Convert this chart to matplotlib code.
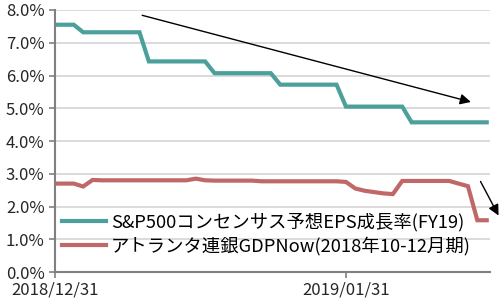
import numpy as np
import pandas as pd
import matplotlib
matplotlib.use('Agg')
import matplotlib.pyplot as plt
import matplotlib.dates as mdates

plt.rcParams['font.family'] = ['Noto Sans CJK JP', 'DejaVu Sans']

# daily values, 2018/12/31 - 2019/02/15
dates = pd.date_range('2018-12-31', '2019-02-15')
eps = [7.55] * 3 + [7.32] * 7 + [6.43] * 7 + [6.07] * 7 + [5.72] * 7 + [5.05] * 7 + [4.57] * 9
gdp = ([2.70, 2.70, 2.70, 2.61, 2.81] + [2.80] * 10 + [2.85, 2.80] + [2.79] * 5 + [2.77] * 9
       + [2.75, 2.55, 2.48, 2.44, 2.40, 2.38, 2.78] + [2.78] * 5 + [2.70, 2.62, 1.58, 1.58])
labels = ['S&P500コンセンサス予想EPS成長率(FY19)', 'アトランタ連銀GDPNow(2018年10-12月期)']
tick_dates = ['2018-12-31', '2019-01-31']

x = mdates.date2num(dates)
x0 = x[0]

fig = plt.figure(figsize=(5, 3.03), dpi=100)
ax = fig.add_axes([0.11, 0.1023, 0.87, 0.8647])

ax.plot(x, eps, color='#4ba09b', lw=3, label=labels[0], solid_joinstyle='miter')
ax.plot(x, gdp, color='#c06868', lw=3, label=labels[1], solid_joinstyle='miter')

ax.set_ylim(0, 8)
ax.set_xlim(x0, x0 + 46.35)
ax.set_yticks(np.arange(0, 9, 1))
ax.set_yticklabels(['%.1f%%' % v for v in range(9)])
ax.set_xticks(mdates.date2num(pd.to_datetime(tick_dates)))
ax.set_xticklabels([d.replace('-', '/') for d in tick_dates])

ax.grid(axis='y', color='#d4d4d4', lw=1.2)
ax.set_axisbelow(True)
for s in ['top', 'right']:
    ax.spines[s].set_visible(False)
for s in ['left', 'bottom']:
    ax.spines[s].set_color('#808080')
    ax.spines[s].set_linewidth(1.5)
ax.tick_params(axis='both', colors='#808080', labelcolor='#262626', labelsize=12, length=4, width=1.2)
ax.tick_params(axis='x', pad=3)

# trend arrows
ax.annotate('', xy=(x0 + 44.6, 5.17), xytext=(x0 + 9.0, 7.86),
            arrowprops=dict(arrowstyle='-|>', color='black', lw=1, mutation_scale=16),
            annotation_clip=False)
ax.annotate('', xy=(x0 + 47.4, 1.65), xytext=(x0 + 45.2, 2.84),
            arrowprops=dict(arrowstyle='-|>', color='black', lw=1, mutation_scale=16),
            annotation_clip=False)

ax.legend(loc='lower left', bbox_to_anchor=(-0.01, 0.02), frameon=False, fontsize=13.2,
          handlelength=2.4, handletextpad=0.3, labelspacing=0.3, borderaxespad=0.2)

fig.savefig('out.png', dpi=100)
